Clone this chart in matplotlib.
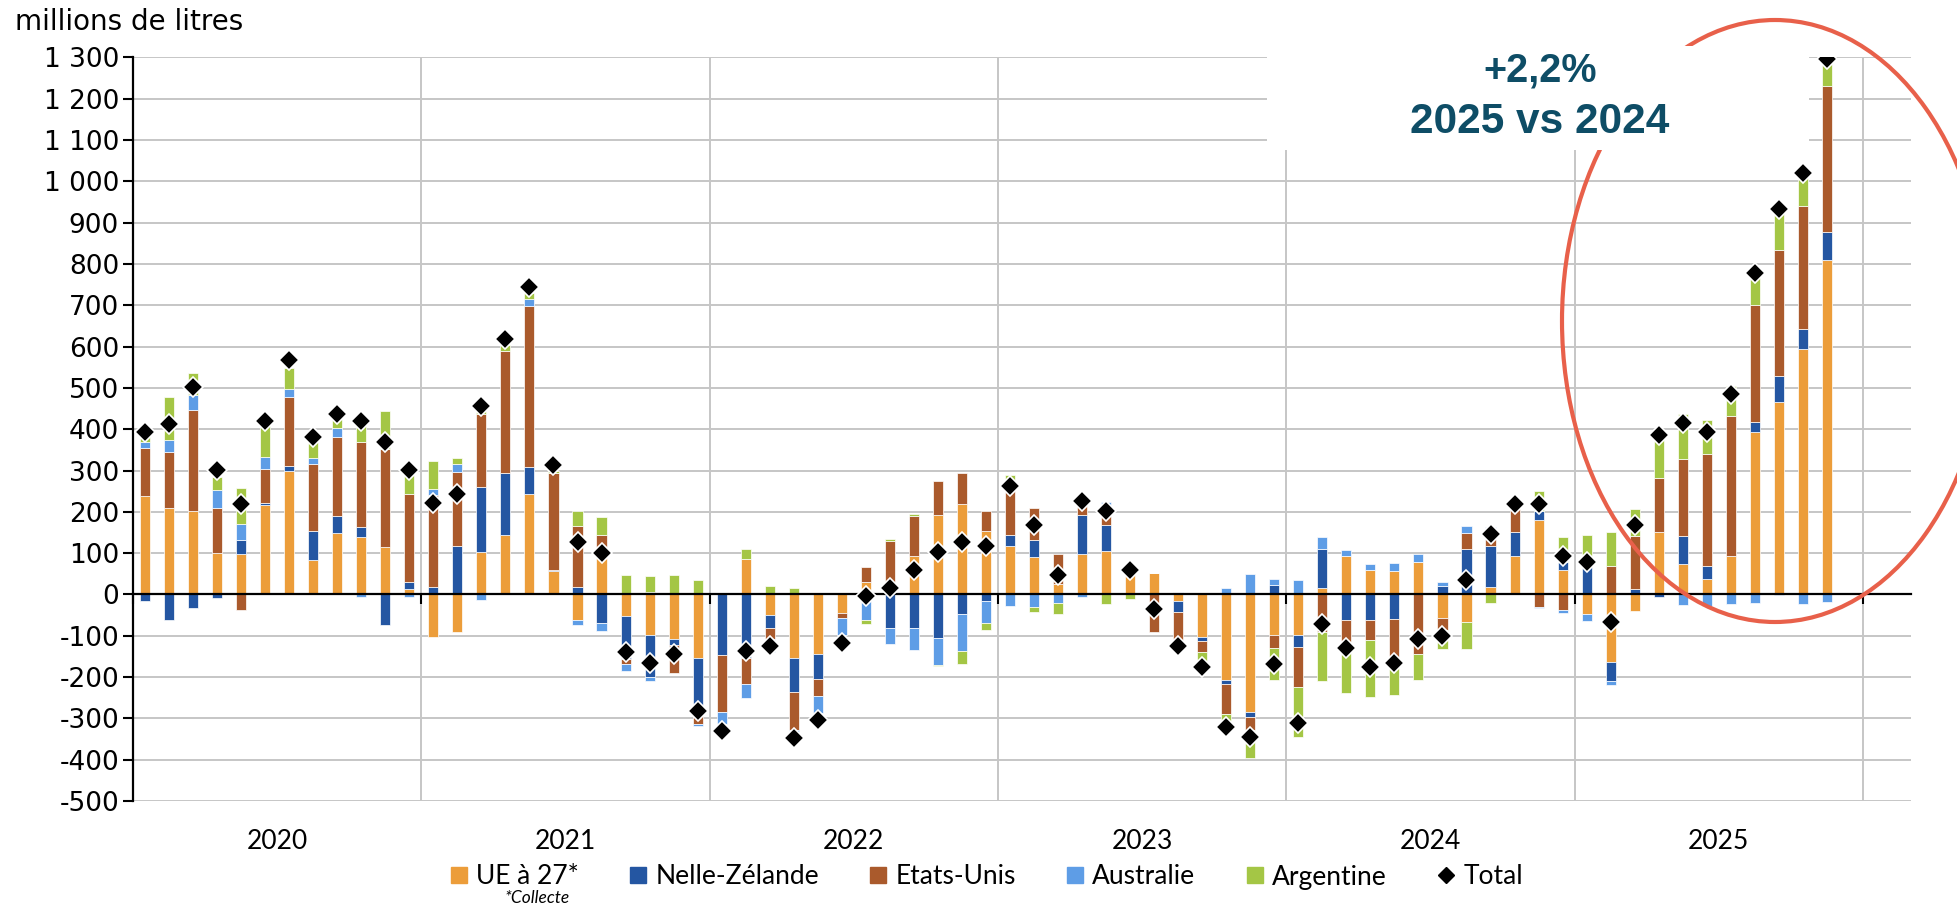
import numpy as np
import matplotlib
matplotlib.use('Agg')
import matplotlib.pyplot as plt
from matplotlib.lines import Line2D
from matplotlib.patches import Ellipse, Rectangle
from matplotlib.ticker import FuncFormatter, MultipleLocator

plt.rcParams['axes.unicode_minus'] = False

# Monthly change vs same month of previous year (millions de litres), Jan 2020 -> Nov 2025
years = ['2020', '2021', '2022', '2023', '2024', '2025']

ue27 = [239, 209, 201, 100, 97, 217, 298, 83, 148, 138, 114, 12,
        -102, -91, 102, 143, 243, 56, -63, 90, -51, -97, -109, -154,
        0, 85, -50, -153, -144, -46, 31, 27, 93, 192, 219, 153,
        118, 91, 25, 99, 105, 60, 52, -16, -102, -207, -284, -98,
        -98, 15, 93, 59, 57, 79, -56, -66, 19, 93, 180, 60,
        -47, -163, -40, 152, 74, 37, 93, 393, 465, 593, 809]
nz = [-16, -63, -32, -8, 34, 5, 12, 71, 42, 26, -74, 19,
      17, 118, 159, 151, 66, 2, 17, -70, -106, -103, -14, -117,
      -146, -155, -32, -83, -60, 0, 0, -81, -81, -105, -48, -15,
      27, 40, 0, 93, 64, 0, 0, -26, -10, -10, -12, 22,
      -29, 95, -62, -62, -60, 0, 21, 111, 99, 59, 22, 19,
      70, -47, 12, -6, 68, 33, 0, 24, 63, 49, 68]
usa = [116, 137, 245, 110, -38, 81, 168, 162, 191, 206, 239, 213,
       223, 178, 176, 296, 389, 236, 149, 55, -12, 6, -68, -42,
       -139, -62, -27, -92, -43, -10, 36, 103, 97, 82, 74, 49,
       107, 79, 72, 30, 23, 0, -90, -76, -27, -73, -32, -31,
       -98, -90, -53, -48, -99, -144, -30, 37, 40, 63, -30, -38,
       0, 70, 130, 129, 185, 270, 339, 283, 305, 299, 354]
australia = [13, 27, 37, 42, 40, 30, 20, 14, 21, -7, 0, -6,
             16, 19, -13, 0, 17, 0, -12, -18, -16, -9, 0, -5,
             -28, -33, -30, -8, -40, -42, -62, -40, -54, -66, -88, -55,
             -28, -31, -20, -7, 32, 0, 0, 5, 0, 16, 49, 16,
             35, 28, 14, 14, 20, 20, 10, 18, 5, 0, -2, -8,
             -18, -8, 0, 0, -25, -28, -22, -21, -2, -22, -19]
argentina = [20, 104, 53, 33, 87, 82, 50, 40, 30, 40, 91, 45,
             67, 16, 8, 14, 14, 6, 35, 42, 46, 38, 48, 34,
             0, 26, 20, 15, 3, 0, -10, 5, 4, -3, -33, -16,
             38, -11, -28, 0, -22, -10, 0, 0, -36, -30, -67, -77,
             -119, -120, -123, -138, -85, -63, -46, -65, -20, 0, 48, 61,
             74, 81, 65, 95, 111, 83, 72, 78, 99, 90, 53]
total = [394, 413, 503, 301, 220, 420, 567, 380, 436, 420, 369, 302,
         221, 243, 457, 618, 744, 313, 127, 101, -139, -167, -144, -283,
         -331, -137, -125, -348, -304, -117, -4, 16, 59, 103, 126, 118,
         262, 169, 48, 226, 202, 59, -36, -124, -175, -320, -346, -169,
         -310, -72, -129, -175, -167, -109, -101, 35, 146, 218, 220, 93,
         79, -67, 169, 385, 416, 393, 484, 778, 932, 1019, 1296]

series = [('UE à 27*', ue27, '#EC9D3A'),
          ('Nelle-Zélande', nz, '#2456A2'),
          ('Etats-Unis', usa, '#AA5A2C'),
          ('Australie', australia, '#5E9DE6'),
          ('Argentine', argentina, '#A4C645')]

W, H = 1957, 907
fig = plt.figure(figsize=(W / 100, H / 100), dpi=100)
ax = fig.add_axes([133 / W, 1 - 801 / H, (1911 - 133) / W, (801 - 57.4) / H])

x = np.arange(len(total)) + 0.5
pos_bottom = np.zeros(len(total))
neg_bottom = np.zeros(len(total))
for name, vals, color in series:
    v = np.array(vals, dtype=float)
    bottom = np.where(v >= 0, pos_bottom, neg_bottom)
    ax.bar(x, v, 0.42, bottom=bottom, color=color, edgecolor='white', linewidth=0.5, zorder=2)
    pos_bottom += np.clip(v, 0, None)
    neg_bottom += np.clip(v, None, 0)

ax.plot(x, total, linestyle='none', marker='D', markersize=10, markerfacecolor='black',
        markeredgecolor='white', markeredgewidth=1.2, zorder=4)

# axes styling
ax.set_xlim(0, 74)
ax.set_ylim(-500, 1300)
ax.yaxis.set_major_locator(MultipleLocator(100))
ax.yaxis.set_major_formatter(FuncFormatter(lambda v, p: f"{int(v):,}".replace(',', ' ')))
ax.yaxis.grid(True, color='#c6c6c6', linewidth=1.4)
for k in range(1, 7):
    ax.axvline(12 * k, color='#c6c6c6', linewidth=1.4, zorder=0)
ax.set_axisbelow(True)

ax.spines['top'].set_visible(False)
ax.spines['right'].set_visible(False)
ax.spines['left'].set_linewidth(1.6)
ax.spines['bottom'].set_position(('data', 0))
ax.spines['bottom'].set_linewidth(1.6)
ax.spines['bottom'].set_zorder(3)
ax.set_xticks(range(0, 73, 12))
ax.tick_params(axis='x', length=7, width=1.5, labelbottom=False)
ax.tick_params(axis='y', length=7, width=1.5, pad=3, labelsize=19)

for k, yr in enumerate(years):
    ax.text(12 * k + 6, -0.055, yr, transform=ax.get_xaxis_transform(), ha='center', va='center',
            fontsize=19, family='Lato')

fig.text(15 / W, 1 - 22 / H, 'millions de litres', fontsize=20, va='center')

# legend
handles = [Line2D([], [], linestyle='none', marker='s', markersize=11, markerfacecolor=c, markeredgecolor=c)
           for _, _, c in series]
handles.append(Line2D([], [], linestyle='none', marker='D', markersize=8, markerfacecolor='black',
                      markeredgecolor='black'))
labels = [s[0] for s in series] + ['Total']
fig.legend(handles, labels, loc='center', bbox_to_anchor=(0.504, 1 - 877 / H), ncol=6, frameon=False,
           prop={'family': 'Lato', 'size': 19}, handlelength=0.7, handletextpad=0.3, columnspacing=1.9)
fig.text(537 / W, 1 - 898 / H, '*Collecte', fontsize=12.5, style='italic', family='Lato', ha='center', va='center')

# highlight of 2025
fig.add_artist(Ellipse((1775 / W, 1 - 321 / H), 426 / W, 602 / H, transform=fig.transFigure,
                       fill=False, edgecolor='#E8604A', linewidth=3, zorder=10))
fig.add_artist(Rectangle((1267 / W, 1 - 150 / H), (1809 - 1267) / W, 104 / H, transform=fig.transFigure,
                         facecolor='white', edgecolor='none', zorder=11))
fig.text(1540 / W, 1 - 71 / H, '+2,2%', fontsize=28.5, fontweight='bold', color='#0E4D66',
         family='Liberation Sans', ha='center', va='center', zorder=12)
fig.text(1540 / W, 1 - 122 / H, '2025 vs 2024', fontsize=30.5, fontweight='bold', color='#0E4D66',
         family='Liberation Sans', ha='center', va='center', zorder=12)

fig.savefig('out.png', dpi=100)
